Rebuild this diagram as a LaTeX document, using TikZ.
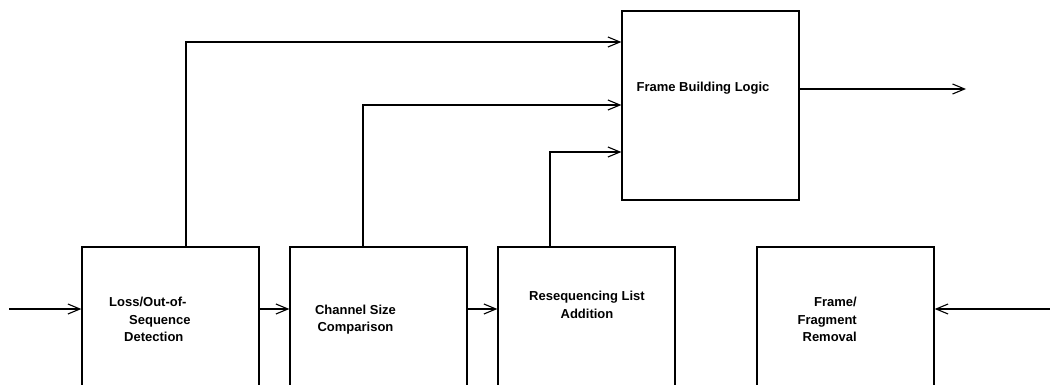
\documentclass[tikz,border=0pt]{standalone}
\usepackage{fontspec}
\setmainfont{Liberation Sans}
\usetikzlibrary{arrows.meta,calc}
\begin{document}
\begin{tikzpicture}[x=1pt,y=-1pt,
  box/.style={draw, line width=1.3pt, minimum width=177pt, inner sep=0pt},
  lbl/.style={font=\bfseries\fontsize{13}{17.5}\selectfont, inner sep=0pt},
  conn/.style={line width=1.1pt, -{Straight Barb[length=12pt,width=10pt,line width=1.1pt]}},
]
\useasboundingbox (0,0) rectangle (1050,385);
\clip (0,0) rectangle (1050,385);
% boxes
\node[box, minimum height=200pt] (b1) at (170.5,347) {};
\node[box, minimum height=200pt] (b2) at (378.5,347) {};
\node[box, minimum height=200pt] (b3) at (586.5,347) {};
\node[box, minimum height=200pt] (b4) at (845.5,347) {};
\node[box, minimum height=189pt] (fbl) at (710.5,105.5) {};
% labels
\node[lbl, anchor=west, align=left] (t1) at (109,319.5) {Loss/Out-of-\\\hspace*{20pt}Sequence\\\hspace*{15pt}Detection};
\node[lbl, align=center] (t2) at (355.5,319.5) {Channel Size\\Comparison};
\node[lbl, align=center] (t3) at (587,305) {Resequencing List\\Addition};
\node[lbl, anchor=east, align=right] (t4) at (857,319.5) {Frame/\\Fragment\\Removal};
\node[lbl] (t5) at (703,88) {Frame Building Logic};
% free ends and bends
\coordinate (in) at (9,309);
\coordinate (out4) at (1052,309);
\coordinate (outF) at (966,89);
\coordinate (f1) at (186,42);
\coordinate (f2) at (363,105);
\coordinate (f3) at (550,152);
% connectors
\draw[conn] (in) -- (b1.west |- in);
\draw[conn] (b1.east |- in) -- (b2.west |- in);
\draw[conn] (b2.east |- in) -- (b3.west |- in);
\draw[conn] (out4) -- (b4.east |- out4);
\draw[conn] (fbl.east |- outF) -- (outF);
\draw[conn] (b1.north -| f1) |- (fbl.west |- f1);
\draw[conn] (b2.north -| f2) |- (fbl.west |- f2);
\draw[conn] (b3.north -| f3) |- (fbl.west |- f3);
\end{tikzpicture}
\end{document}
